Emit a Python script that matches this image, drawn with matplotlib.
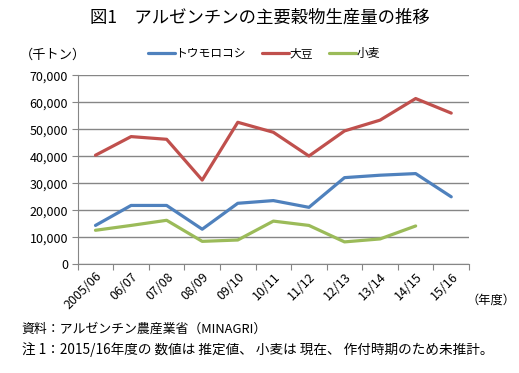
import numpy as np
import matplotlib.pyplot as plt

plt.rcParams['font.family'] = ['Noto Sans CJK JP', 'DejaVu Sans']

# data (thousand tonnes)
years = ['2005/06', '06/07', '07/08', '08/09', '09/10', '10/11',
         '11/12', '12/13', '13/14', '14/15', '15/16']
corn = [14400, 21800, 21800, 13000, 22600, 23600, 21100, 32100, 33000, 33600, 25000]
soy = [40400, 47300, 46300, 31200, 52600, 48900, 40100, 49400, 53400, 61400, 56000]
wheat = [12600, 14400, 16300, 8500, 9000, 16000, 14400, 8300, 9400, 14200, np.nan]

fig = plt.figure(figsize=(5.19, 3.73), dpi=100)
ax = fig.add_axes([0.1497, 0.2914, 0.754, 0.5067])

x = np.arange(len(years))
ax.plot(x, corn, color='#4F81BD', lw=2.3, label='トウモロコシ', solid_capstyle='round')
ax.plot(x, soy, color='#C0504D', lw=2.3, label='大豆', solid_capstyle='round')
ax.plot(x, wheat, color='#9BBB59', lw=2.3, label='小麦', solid_capstyle='round')

ax.set_xlim(-0.5, len(years) - 0.5)
ax.set_ylim(0, 70000)
ax.set_yticks(np.arange(0, 70001, 10000))
ax.set_yticklabels([f'{v:,}' for v in range(0, 70001, 10000)], fontsize=9)
ax.yaxis.grid(True, color='#868686', lw=1)
ax.set_axisbelow(True)

# boundary tick marks, labels at category centres
ax.set_xticks(np.arange(-0.5, len(years)), labels=[''] * (len(years) + 1))
ax.set_xticks(x, minor=True)
ax.set_xticklabels(years, minor=True, rotation=45, ha='right',
                   rotation_mode='anchor', fontsize=9)
ax.tick_params(axis='x', which='minor', length=0, pad=4)
ax.tick_params(axis='x', which='major', length=4, color='#868686')
ax.tick_params(axis='y', length=4, color='#868686', pad=3)

for s in ['top', 'right']:
    ax.spines[s].set_visible(False)
for s in ['left', 'bottom']:
    ax.spines[s].set_color('#868686')

fig.text(0.5, 0.952, '図1　アルゼンチンの主要穀物生産量の推移', ha='center', va='center', fontsize=12.5)
fig.text(0.038, 0.852, '（千トン）', ha='left', va='center', fontsize=9.5)
fig.text(0.898, 0.196, '（年度）', ha='left', va='center', fontsize=8.8)

ax.legend(loc='center', bbox_to_anchor=(0.476, 1.116), ncol=3, frameon=False,
          fontsize=8.5, handlelength=2.3, handletextpad=0.05, columnspacing=1.35,
          borderaxespad=0, borderpad=0)

fig.text(0.042, 0.118, '資料：アルゼンチン農産業省（MINAGRI）', ha='left', va='center', fontsize=9.3)
fig.text(0.042, 0.062, '注 1：2015/16年度の 数値は 推定値、 小麦は 現在、 作付時期のため未推計。',
         ha='left', va='center', fontsize=9.8)

fig.savefig('out.png', dpi=100)
